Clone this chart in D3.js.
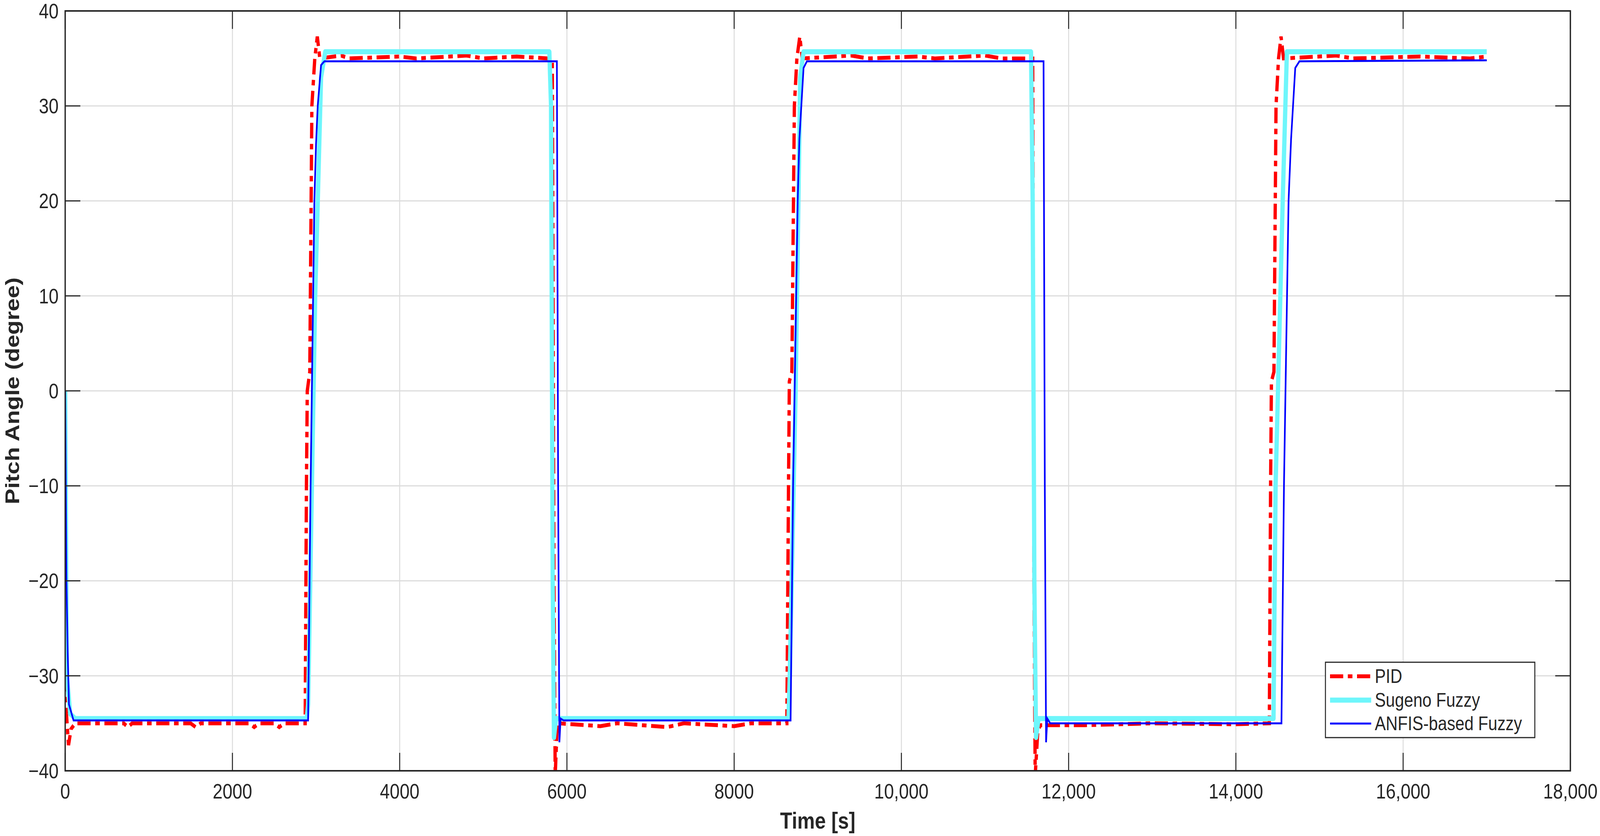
<!DOCTYPE html>
<html>
<head>
<meta charset="utf-8">
<script src="https://cdn.jsdelivr.net/npm/d3@7"></script>
<style>
  html, body { margin: 0; padding: 0; background: #fff; overflow: hidden; }
  #chart { display: block; width: 100vw; height: 100vh; }
  text { font-family: "Liberation Sans", Arial, sans-serif; fill: #262626; }
</style>
</head>
<body>
<svg id="chart" viewBox="0 0 4860 2141" preserveAspectRatio="none"></svg>
<script>
var W = 4860, H = 2141
var margin = {left: 198, right: 90, top: 28, bottom: 167}

var xTicks = [0, 2000, 4000, 6000, 8000, 10000, 12000, 14000, 16000, 18000]
var yTicks = [-40, -30, -20, -10, 0, 10, 20, 30, 40]
var seriesNames = ["PID", "Sugeno Fuzzy", "ANFIS-based Fuzzy"]

// [time, pitch] points
var pid = [[0,-30],[15,-34],[40,-37.3],[70,-35.6],[120,-35],[700,-35],[750,-35.4],[800,-35],
  [1500,-35],[1560,-35.4],[1620,-35],[2200,-35],[2260,-35.4],[2320,-35],[2500,-35],[2560,-35.4],[2620,-35],
  [2870,-35],[2885,-10],[2895,0],[2925,2],[2950,30],[2985,35],[3015,37.3],[3045,35],[3300,35.3],[3400,35],
  [4000,35.2],[4200,35],[4800,35.3],[5000,35],[5400,35.2],[5780,35],[5825,35],[5845,-20],[5860,-40.5],[5880,-36],
  [5900,-35],[6400,-35.3],[6600,-35],[7200,-35.4],[7400,-35],[8000,-35.3],[8200,-35],[8630,-35],[8650,-10],
  [8660,1],[8690,2],[8720,30],[8750,35],[8785,37.3],[8815,35],[9400,35.3],[9600,35],[10200,35.2],[10400,35],
  [11000,35.3],[11200,35],[11570,35],[11585,-20],[11600,-40.5],[11630,-36],[11660,-35.2],[12200,-35.2],
  [13000,-35],[14000,-35.1],[14400,-35],[14415,-10],[14425,1],[14455,2],[14480,30],[14510,35],[14540,37.3],
  [14570,35],[15200,35.3],[15400,35],[16200,35.2],[16800,35],[17000,35.2]]

var sugeno = [[0,0],[20,-30],[60,-34],[120,-34.5],[2890,-34.5],[2905,-33],[2990,10],[3060,33],[3110,35.7],
  [5790,35.7],[5810,30],[5830,-20],[5845,-36.5],[5870,-34.5],[8650,-34.5],[8665,-30],[8735,0],[8790,33],
  [8830,35.7],[11550,35.7],[11570,20],[11590,-20],[11610,-36.5],[11640,-34.5],[14450,-34.5],[14475,-10],
  [14560,20],[14610,35.7],[17000,35.7]]

var anfis = [[0,0],[15,-20],[30,-27.5],[45,-33],[100,-34.7],[2905,-34.7],[2935,-10],[2980,20],[3000,26],
  [3020,30],[3060,34.3],[3100,34.7],[5880,34.7],[5895,-10],[5910,-37],[5925,-34.5],[5960,-34.7],
  [8675,-34.7],[8705,-10],[8760,20],[8780,26.5],[8830,34],[8870,34.7],[11700,34.7],[11715,-10],
  [11730,-37],[11745,-34.5],[11780,-35],[14545,-35],[14575,-10],[14630,20],[14660,26.5],[14710,34],
  [14760,34.7],[17000,34.8]]

var svg = d3.select("#chart")
var pw = W - margin.left - margin.right
var ph = H - margin.top - margin.bottom

var x = d3.scaleLinear().domain([0, 18000]).range([margin.left, margin.left + pw])
var y = d3.scaleLinear().domain([-40, 40]).range([margin.top + ph, margin.top])

var fmtX = d => d >= 10000 ? d3.format(",")(d) : String(d)
var fmtY = d => d < 0 ? "\u2212" + Math.abs(d) : String(d)

// grid
svg.append("g").selectAll("line").data(xTicks.slice(1, -1)).join("line")
  .attr("x1", d => x(d)).attr("x2", d => x(d)).attr("y1", y(-40)).attr("y2", y(40))
  .attr("stroke", "#dcdcdc").attr("stroke-width", 3)
svg.append("g").selectAll("line").data(yTicks.slice(1, -1)).join("line")
  .attr("y1", d => y(d)).attr("y2", d => y(d)).attr("x1", x(0)).attr("x2", x(18000))
  .attr("stroke", "#dcdcdc").attr("stroke-width", 3)

// data
svg.append("clipPath").attr("id", "clip").append("rect")
  .attr("x", margin.left).attr("y", margin.top).attr("width", pw).attr("height", ph)
var line = d3.line().x(d => x(d[0])).y(d => y(d[1]))
var plot = svg.append("g").attr("clip-path", "url(#clip)")
plot.append("path").datum(pid).attr("d", line).attr("fill", "none")
  .attr("stroke", "#ff0000").attr("stroke-width", 10).attr("stroke-dasharray", "40,14,14,14")
plot.append("path").datum(sugeno).attr("d", line).attr("fill", "none")
  .attr("stroke", "#6ef6fb").attr("stroke-width", 13).attr("stroke-linejoin", "round")
plot.append("path").datum(anfis).attr("d", line).attr("fill", "none")
  .attr("stroke", "#0000ff").attr("stroke-width", 5)

// ticks inside box on all sides
var ax = svg.append("g").attr("stroke", "#262626").attr("stroke-width", 3)
xTicks.forEach(function (d) {
  ax.append("line").attr("x1", x(d)).attr("x2", x(d)).attr("y1", y(-40)).attr("y2", y(-40) - 46)
  ax.append("line").attr("x1", x(d)).attr("x2", x(d)).attr("y1", y(40)).attr("y2", y(40) + 46)
})
yTicks.forEach(function (d) {
  ax.append("line").attr("y1", y(d)).attr("y2", y(d)).attr("x1", x(0)).attr("x2", x(0) + 46)
  ax.append("line").attr("y1", y(d)).attr("y2", y(d)).attr("x1", x(18000)).attr("x2", x(18000) - 46)
})
svg.append("rect").attr("x", margin.left).attr("y", margin.top).attr("width", pw).attr("height", ph)
  .attr("fill", "none").attr("stroke", "#262626").attr("stroke-width", 4)

svg.append("g").selectAll("text").data(xTicks).join("text")
  .attr("x", d => x(d)).attr("y", 2045).attr("text-anchor", "middle")
  .attr("font-size", 54).text(fmtX)
svg.append("g").selectAll("text").data(yTicks).join("text")
  .attr("x", 178).attr("y", d => y(d) + 19).attr("text-anchor", "end")
  .attr("font-size", 54).text(fmtY)

svg.append("text").attr("x", x(9000)).attr("y", 2122).attr("text-anchor", "middle")
  .attr("font-size", 60).attr("font-weight", "bold").text("Time [s]")
svg.append("text").attr("transform", "translate(58," + y(0) + ") rotate(-90)")
  .attr("text-anchor", "middle").attr("font-size", 60).attr("font-weight", "bold")
  .text("Pitch Angle (degree)")

// legend
var lg = svg.append("g")
lg.append("rect").attr("x", 4026).attr("y", 1696).attr("width", 636).attr("height", 193)
  .attr("fill", "#fff").attr("stroke", "#262626").attr("stroke-width", 3)
var legStyles = [
  {stroke: "#ff0000", w: 10, dash: "40,14,14,14"},
  {stroke: "#6ef6fb", w: 13, dash: null},
  {stroke: "#0000ff", w: 5, dash: null}
]
var rowY = [1732, 1793, 1853]
seriesNames.forEach(function (name, i) {
  lg.append("line").attr("x1", 4040).attr("x2", 4165).attr("y1", rowY[i]).attr("y2", rowY[i])
    .attr("stroke", legStyles[i].stroke).attr("stroke-width", legStyles[i].w)
    .attr("stroke-dasharray", legStyles[i].dash)
  lg.append("text").attr("x", 4176).attr("y", rowY[i] + 17).attr("font-size", 50).text(name)
})
</script>
</body>
</html>
